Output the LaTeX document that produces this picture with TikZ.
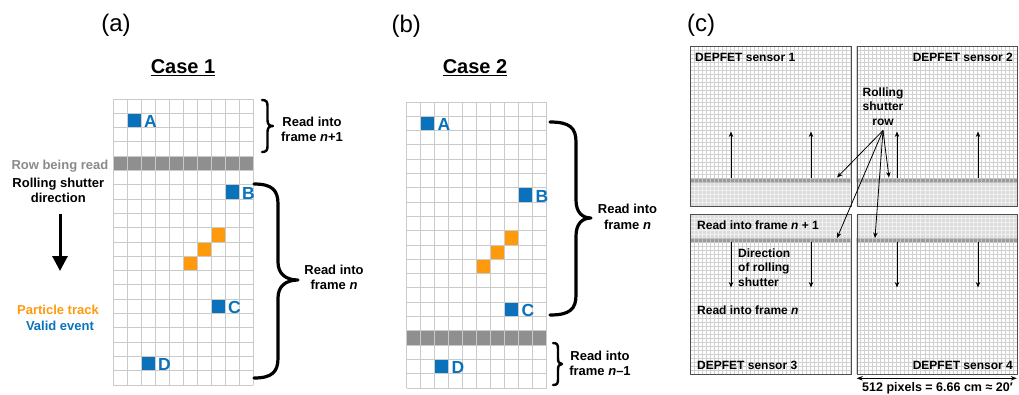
\documentclass[tikz,border=0pt]{standalone}
\usepackage{fontspec}
\setmainfont{Liberation Sans}
\usetikzlibrary{arrows.meta}

\definecolor{evblue}{HTML}{0A72BA}
\definecolor{trkorange}{HTML}{FF9A0D}
\definecolor{readgray}{HTML}{8F8F8F}
\definecolor{cellline}{HTML}{CACACA}
\definecolor{labelgray}{HTML}{8A8A8A}
\definecolor{fineline}{HTML}{D0D0D0}
\definecolor{bandlight}{HTML}{DCDCDC}
\definecolor{bandline}{HTML}{F0F0F0}
\definecolor{banddark}{HTML}{9A9A9A}
\definecolor{bandsep}{HTML}{C4C4C4}
\definecolor{framegray}{HTML}{4F4F4F}

% pixel pad of the cartoon panels: cells 14 x 14.3
\newcommand\padgrid[4]{% corner x, corner y, columns, rows
  \foreach \i in {0,...,#3}{\draw[cellgrid] ({#1+\i*14},{#2}) -- ({#1+\i*14},{#2+#4*14.3});}
  \foreach \j in {0,...,#4}{\draw[cellgrid] ({#1},{#2+\j*14.3}) -- ({#1+#3*14},{#2+\j*14.3});}
}
\newcommand\padcell[5]{% corner x, corner y, column, row, colour
  \fill[#5] ({#1+#3*14},{#2+#4*14.3}) rectangle ({#1+#3*14+14},{#2+#4*14.3+14.3});
}
\newcommand\padrow[3]{% corner x, corner y, row currently being read
  \fill[readgray] ({#1},{#2+#3*14.3}) rectangle ({#1+140},{#2+#3*14.3+14.3});
}
\newcommand\hitlabel[6]{% name, corner x, corner y, column, row, letter
  \node[hitlbl, anchor=west] (#1) at ({#2+#4*14+17},{#3+#5*14.3+8.4}) {#6};
}
% fine pixel grid of a DEPFET sensor: pitch 4.0125 x 4
\newcommand\finegrid[5]{% x0, y0, columns, rows, colour
  \foreach \i in {0,...,#3}{\draw[#5,line width=.45pt] ({#1+\i*4.0125},{#2}) -- ({#1+\i*4.0125},{#2+#4*4});}
  \foreach \j in {0,...,#4}{\draw[#5,line width=.45pt] ({#1},{#2+\j*4}) -- ({#1+#3*4.0125},{#2+\j*4});}
}
\newcommand\topsensor[1]{% x0 ; shutter band near the bottom edge
  \fill[bandlight] (#1,182) rectangle ({#1+160.5},206);
  \fill[banddark] (#1,178) rectangle ({#1+160.5},182);
  \finegrid{#1}{46}{40}{40}{fineline}
  \finegrid{#1}{182}{40}{6}{bandline}
  \finegrid{#1}{178}{40}{1}{bandsep}
}
\newcommand\botsensor[1]{% x0 ; shutter band near the top edge
  \fill[bandlight] (#1,214) rectangle ({#1+160.5},238);
  \fill[banddark] (#1,238) rectangle ({#1+160.5},242);
  \finegrid{#1}{214}{40}{40}{fineline}
  \finegrid{#1}{214}{40}{6}{bandline}
  \finegrid{#1}{238}{40}{1}{bandsep}
}

\begin{document}
\begin{tikzpicture}[x=1pt,y=-1pt,
  cellgrid/.style={cellline,line width=1pt},
  lbl/.style={font=\bfseries\fontsize{13}{15.6}\selectfont,align=center,inner sep=0pt},
  senslbl/.style={font=\bfseries\fontsize{12}{14.6}\selectfont,inner sep=0pt},
  paneltag/.style={font=\fontsize{24}{28}\selectfont,inner sep=0pt},
  casetitle/.style={font=\bfseries\fontsize{20}{24}\selectfont,inner sep=0pt},
  hitlbl/.style={font=\bfseries\fontsize{17.5}{20}\selectfont,text=evblue,inner sep=0pt},
  bracepath/.style={line width=#1,line cap=round,line join=round},
  bigarrow/.style={line width=3pt,-{Triangle[length=15pt,width=15pt]}},
  flow/.style={line width=.8pt,-{Stealth[length=5.5pt,width=4.5pt]}},
  sensorframe/.style={draw=framegray,line width=1.3pt,anchor=north west,
    minimum width=160.5pt,minimum height=160pt,inner sep=0pt},
]
\useasboundingbox (0,0) rectangle (1019,394);

% ---------------- (a) Case 1 ----------------
\node[paneltag] (tagA) at (116,25.5) {(a)};
\node[casetitle,anchor=base] (case1) at (183,73.3) {Case 1};
\draw[line width=1.3pt] ([yshift=-2.2pt]case1.base west) -- ([yshift=-2.2pt]case1.base east);

\padrow{113}{99}{4}
\padcell{113}{99}{1}{1}{evblue}
\padcell{113}{99}{8}{6}{evblue}
\padcell{113}{99}{7}{9}{trkorange}
\padcell{113}{99}{6}{10}{trkorange}
\padcell{113}{99}{5}{11}{trkorange}
\padcell{113}{99}{7}{14}{evblue}
\padcell{113}{99}{2}{18}{evblue}
\padgrid{113}{99}{10}{20}
\hitlabel{aA}{113}{99}{1}{1}{A}
\hitlabel{aB}{113}{99}{8}{6}{B}
\hitlabel{aC}{113}{99}{7}{14}{C}
\hitlabel{aD}{113}{99}{2}{18}{D}

\node[lbl,anchor=base east,text=labelgray] (rowread) at (108.5,169.3) {Row being read};
\node[lbl,anchor=base] (rs1) at (58.3,187.3) {Rolling shutter};
\node[lbl,anchor=base] (rs2) at (58.3,202.7) {direction};
\coordinate (dirtop) at (60,214);
\coordinate (dirtip) at (60,271);
\draw[bigarrow] (dirtop) -- (dirtip);
\node[lbl,anchor=base,text=trkorange] (legtrack) at (58,314) {Particle track};
\node[lbl,anchor=base,text=evblue] (legvalid) at (60,330) {Valid event};

% braces of case 1
\draw[bracepath=2.4pt] (262,100) .. controls (266.5,100) and (267.5,102) .. (267.5,106)
  -- (267.5,120) .. controls (267.5,124) and (269,126) .. (273,126)
  .. controls (269,126) and (267.5,128) .. (267.5,132)
  -- (267.5,146) .. controls (267.5,150) and (266.5,152) .. (262,152);
\node[lbl] (aNext) at (312,129.5) {Read into\\frame \textit{n}+1};

\draw[bracepath=3.2pt] (254,184) .. controls (272,184) and (278,190) .. (278,204)
  -- (278,262) .. controls (278,274) and (286,280) .. (298,280)
  .. controls (286,280) and (278,286) .. (278,298)
  -- (278,358) .. controls (278,372) and (272,378) .. (254,378);
\node[lbl] (aCur) at (334,277.5) {Read into\\frame \textit{n}};

% ---------------- (b) Case 2 ----------------
\node[paneltag] (tagB) at (406.3,25.8) {(b)};
\node[casetitle,anchor=base] (case2) at (475,73.3) {Case 2};
\draw[line width=1.3pt] ([yshift=-2.2pt]case2.base west) -- ([yshift=-2.2pt]case2.base east);

\padrow{406.5}{102}{16}
\padcell{406.5}{102}{1}{1}{evblue}
\padcell{406.5}{102}{8}{6}{evblue}
\padcell{406.5}{102}{7}{9}{trkorange}
\padcell{406.5}{102}{6}{10}{trkorange}
\padcell{406.5}{102}{5}{11}{trkorange}
\padcell{406.5}{102}{7}{14}{evblue}
\padcell{406.5}{102}{2}{18}{evblue}
\padgrid{406.5}{102}{10}{20}
\hitlabel{bA}{406.5}{102}{1}{1}{A}
\hitlabel{bB}{406.5}{102}{8}{6}{B}
\hitlabel{bC}{406.5}{102}{7}{14}{C}
\hitlabel{bD}{406.5}{102}{2}{18}{D}

% braces of case 2
\draw[bracepath=3.2pt] (550,122) .. controls (570,122) and (576,128) .. (576,142)
  -- (576,200) .. controls (576,212) and (582,218) .. (591,218)
  .. controls (582,218) and (576,224) .. (576,236)
  -- (576,295) .. controls (576,309) and (570,315) .. (550,315);
\node[lbl] (bCur) at (627.5,216.7) {Read into\\frame \textit{n}};

\draw[bracepath=2.4pt] (553,343) .. controls (557.5,343) and (558,345) .. (558,349)
  -- (558,358) .. controls (558,362) and (559,364) .. (562,364)
  .. controls (559,364) and (558,366) .. (558,370)
  -- (558,379) .. controls (558,383) and (557.5,385) .. (553,385);
\node[lbl] (bPrev) at (600,363.2) {Read into\\frame \textit{n}--1};

% ---------------- (c) DEPFET sensors ----------------
\node[paneltag] (tagC) at (701,25.3) {(c)};

\topsensor{690}
\topsensor{856.5}
\botsensor{690}
\botsensor{856.5}
\node[sensorframe] (s1) at (690,46) {};
\node[sensorframe] (s2) at (856.5,46) {};
\node[sensorframe] (s3) at (690,214) {};
\node[sensorframe] (s4) at (856.5,214) {};

\node[senslbl,anchor=base west] (n1) at (695,61.5) {DEPFET sensor 1};
\node[senslbl,anchor=base east] (n2) at (1013,61.5) {DEPFET sensor 2};
\node[senslbl,anchor=base west] (n3) at (697,369.3) {DEPFET sensor 3};
\node[senslbl,anchor=base east] (n4) at (1013,369.3) {DEPFET sensor 4};

\node[senslbl,anchor=base west] (nextframe) at (697,229.3) {Read into frame \textit{n} + 1};
\node[senslbl,anchor=base west] (curframe) at (697,314) {Read into frame \textit{n}};
\node[senslbl,anchor=west,align=left] (dirlbl) at (738,267.7) {Direction\\of rolling\\shutter};

% shutter motion: upward in the upper pair, downward in the lower pair
\foreach \k/\xx in {1/731,2/811,3/897,4/978}{
  \coordinate (up\k a) at (\xx,178);
  \coordinate (up\k b) at (\xx,131.5);
  \coordinate (dn\k a) at (\xx,242);
  \coordinate (dn\k b) at (\xx,287.5);
  \draw[flow] (up\k a) -- (up\k b);
  \draw[flow] (dn\k a) -- (dn\k b);
}

% pointer from the label to the four shutter rows
\node[senslbl,align=center] (rsrow) at (883,106.7) {Rolling\\shutter\\row};
\coordinate (rsfoot) at (883,130.5);
\coordinate (hit1) at (837,177.5);
\coordinate (hit2) at (889,177.5);
\coordinate (hit3) at (837,238);
\coordinate (hit4) at (875,238);
\foreach \k in {1,2,3,4}{\draw[flow] (rsfoot) -- (hit\k);}

% sensor width
\coordinate (wl) at (856.7,378.3);
\coordinate (wr) at (1016.8,378.3);
\draw[line width=.8pt,{Stealth[length=6pt,width=4.5pt]}-{Stealth[length=6pt,width=4.5pt]}] (wl) -- (wr);
\node[font=\bfseries\fontsize{12.5}{15}\selectfont,inner sep=0pt,anchor=base] (widthlbl) at (937.5,391.7) {512 pixels = 6.66 cm ≈ 20′};

\end{tikzpicture}
\end{document}
